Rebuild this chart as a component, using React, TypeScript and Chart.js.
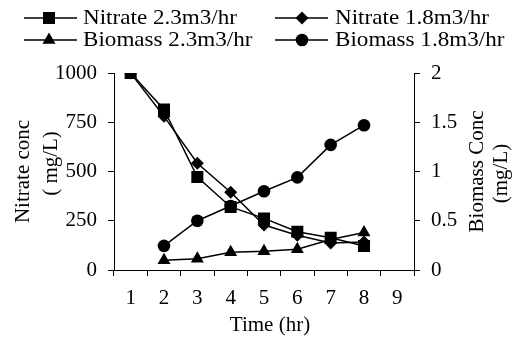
import React, { useEffect, useRef } from "react";
import { Chart, registerables } from "chart.js";

Chart.register(...registerables);

const timeLabels = ["1", "2", "3", "4", "5", "6", "7", "8", "9"];
const nitrate23 = [1000, 815, 472, 320, 262, 194, 164, 122, null];
const nitrate18 = [1000, 780, 542, 395, 228, 176, 137, 142, null];
const biomass23 = [null, 0.1, 0.115, 0.18, 0.19, 0.21, 0.31, 0.38, null];
const biomass18 = [null, 0.245, 0.5, 0.65, 0.8, 0.94, 1.27, 1.47, null];
const nitrateTicks = [0, 250, 500, 750, 1000];
const biomassTicks = [0, 0.5, 1, 1.5, 2];

const FONT_FAMILY = "'Liberation Serif', 'Times New Roman', serif";
const FONT_SIZE = 21;

function drawMarker(ctx: CanvasRenderingContext2D, style: string, x: number, y: number) {
  ctx.beginPath();
  if (style === "rect") {
    const s = 6;
    ctx.rect(x - s, y - s, 2 * s, 2 * s);
  } else if (style === "rectRot") {
    const r = 6.5;
    ctx.moveTo(x - r, y);
    ctx.lineTo(x, y - r);
    ctx.lineTo(x + r, y);
    ctx.lineTo(x, y + r);
    ctx.closePath();
  } else if (style === "triangle") {
    const r = 7.5;
    for (let i = 0; i < 3; i++) {
      const a = (i * 2 * Math.PI) / 3;
      const px = x + Math.sin(a) * r;
      const py = y - Math.cos(a) * r;
      if (i === 0) ctx.moveTo(px, py);
      else ctx.lineTo(px, py);
    }
    ctx.closePath();
  } else {
    ctx.arc(x, y, 6.3, 0, Math.PI * 2);
  }
  ctx.fill();
}

const legendItems = [
  { text: "Nitrate 2.3m3/hr", style: "rect", x0: 24, x1: 77, mx: 49, tx: 83, y: 18 },
  { text: "Nitrate 1.8m3/hr", style: "rectRot", x0: 275, x1: 328, mx: 302, tx: 335, y: 18 },
  { text: "Biomass 2.3m3/hr", style: "triangle", x0: 24, x1: 77, mx: 49, tx: 83, y: 40 },
  { text: "Biomass 1.8m3/hr", style: "circle", x0: 275, x1: 328, mx: 302, tx: 335, y: 40 },
];

const decorPlugin = {
  id: "decor",
  afterDraw(chart: any) {
    const ctx: CanvasRenderingContext2D = chart.ctx;
    ctx.save();
    ctx.fillStyle = "#000";
    ctx.strokeStyle = "#000";
    ctx.font = `${FONT_SIZE}px ${FONT_FAMILY}`;
    // legend
    for (const it of legendItems) {
      ctx.lineWidth = 1.5;
      ctx.beginPath();
      ctx.moveTo(it.x0, it.y);
      ctx.lineTo(it.x1, it.y);
      ctx.stroke();
      drawMarker(ctx, it.style, it.mx, it.y);
      ctx.save();
      ctx.translate(it.tx, it.y);
      ctx.scale(1.1, 1);
      ctx.textAlign = "left";
      ctx.textBaseline = "middle";
      ctx.fillText(it.text, 0, 0);
      ctx.restore();
    }
    // axis titles
    const area = chart.chartArea;
    const cy = (area.top + area.bottom) / 2;
    const drawRot = (text: string, x: number, y: number) => {
      ctx.save();
      ctx.translate(x, y);
      ctx.rotate(-Math.PI / 2);
      ctx.textAlign = "center";
      ctx.textBaseline = "middle";
      ctx.fillText(text, 0, 0);
      ctx.restore();
    };
    drawRot("Nitrate conc", 23, cy);
    drawRot("( mg/L)", 51, cy - 8);
    drawRot("Biomass Conc", 477, cy);
    drawRot("(mg/L)", 501, cy + 2);
    // x title
    ctx.textAlign = "center";
    ctx.textBaseline = "middle";
    ctx.fillText("Time (hr)", 270, 325);
    ctx.restore();
  },
};

export default function App() {
  const canvasRef = useRef<HTMLCanvasElement | null>(null);

  useEffect(() => {
    if (!canvasRef.current) return;
    const font = { family: FONT_FAMILY, size: FONT_SIZE };
    const common = {
      borderColor: "#000",
      backgroundColor: "#000",
      pointBackgroundColor: "#000",
      pointBorderColor: "#000",
      borderWidth: 1.5,
      pointBorderWidth: 0,
      fill: false,
      tension: 0,
    };
    const chart = new Chart(canvasRef.current, {
      type: "line",
      data: {
        labels: timeLabels,
        datasets: [
          { ...common, label: "Nitrate 2.3m3/hr", data: nitrate23, yAxisID: "y", pointStyle: "rect", pointRadius: 8.5 },
          { ...common, label: "Nitrate 1.8m3/hr", data: nitrate18, yAxisID: "y", pointStyle: "rectRot", pointRadius: 6.5 },
          { ...common, label: "Biomass 2.3m3/hr", data: biomass23, yAxisID: "y1", pointStyle: "triangle", pointRadius: 7.5 },
          { ...common, label: "Biomass 1.8m3/hr", data: biomass18, yAxisID: "y1", pointStyle: "circle", pointRadius: 6.3 },
        ],
      },
      options: {
        animation: false,
        responsive: false,
        layout: { padding: { top: 73, left: 0, right: 0, bottom: 0 } },
        plugins: { legend: { display: false }, tooltip: { enabled: false } },
        scales: {
          x: {
            type: "category",
            offset: true,
            grid: { offset: true, drawOnChartArea: false, tickLength: 6, color: "#000", lineWidth: 1 },
            border: { color: "#000", width: 1 },
            ticks: { color: "#000", font, padding: 10, maxRotation: 0, autoSkip: false },
            afterFit: (s: any) => { s.height = 71; },
          },
          y: {
            position: "left",
            min: 0,
            max: 1000,
            afterBuildTicks: (s: any) => { s.ticks = nitrateTicks.map((v) => ({ value: v })); },
            grid: { drawOnChartArea: false, tickLength: 6, color: "#000", lineWidth: 1 },
            border: { color: "#000", width: 1 },
            ticks: { color: "#000", font, padding: 11, callback: (v: any) => String(v) },
            afterFit: (s: any) => { s.width = 114; },
          },
          y1: {
            position: "right",
            min: 0,
            max: 2,
            afterBuildTicks: (s: any) => { s.ticks = biomassTicks.map((v) => ({ value: v })); },
            grid: { drawOnChartArea: false, tickLength: 6, color: "#000", lineWidth: 1 },
            border: { color: "#000", width: 1 },
            ticks: { color: "#000", font, padding: 11, callback: (v: any) => String(v) },
            afterFit: (s: any) => { s.width = 98; },
          },
        },
      },
      plugins: [decorPlugin],
    } as any);
    return () => chart.destroy();
  }, []);

  return (
    <div style={{ position: "absolute", left: 0, top: 0, width: 512, height: 341, background: "#fff" }}>
      <canvas ref={canvasRef} width={512} height={341} style={{ display: "block" }} />
    </div>
  );
}
